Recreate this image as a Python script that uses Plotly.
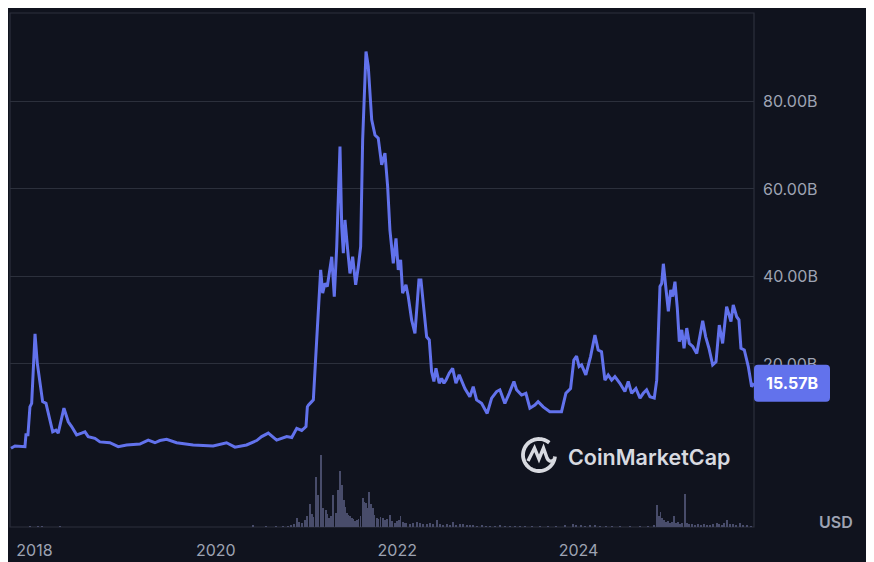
import numpy as np
import pandas as pd
import plotly.graph_objects as go

# ---------------- data (decimal years, values in billions USD) ----------------
price_years = [
    2017.741, 2017.785, 2017.895, 2017.906, 2017.928, 2017.950, 2017.969, 2018.006, 2018.031, 2018.061,
    2018.090, 2018.127, 2018.163, 2018.201, 2018.237, 2018.262, 2018.325, 2018.373, 2018.410, 2018.465,
    2018.520, 2018.557, 2018.593, 2018.667, 2018.722, 2018.832, 2018.924, 2019.017, 2019.163, 2019.255,
    2019.329, 2019.384, 2019.458, 2019.568, 2019.751, 2019.971, 2020.119, 2020.211, 2020.339, 2020.450,
    2020.505, 2020.578, 2020.670, 2020.781, 2020.836, 2020.891, 2020.946, 2020.993, 2021.008, 2021.019,
    2021.056, 2021.074, 2021.111, 2021.155, 2021.177, 2021.203, 2021.228, 2021.277, 2021.305, 2021.332,
    2021.368, 2021.387, 2021.405, 2021.423, 2021.453, 2021.478, 2021.508, 2021.541, 2021.570, 2021.596,
    2021.618, 2021.655, 2021.680, 2021.718, 2021.754, 2021.790, 2021.828, 2021.864, 2021.894, 2021.919,
    2021.956, 2021.986, 2022.011, 2022.037, 2022.059, 2022.096, 2022.121, 2022.159, 2022.195, 2022.239,
    2022.261, 2022.287, 2022.324, 2022.353, 2022.379, 2022.404, 2022.427, 2022.463, 2022.489, 2022.515,
    2022.537, 2022.573, 2022.611, 2022.647, 2022.683, 2022.746, 2022.801, 2022.838, 2022.875, 2022.930,
    2022.992, 2023.041, 2023.096, 2023.132, 2023.187, 2023.235, 2023.287, 2023.316, 2023.371, 2023.419,
    2023.463, 2023.518, 2023.554, 2023.610, 2023.683, 2023.757, 2023.812, 2023.860, 2023.912, 2023.948,
    2023.978, 2024.006, 2024.033, 2024.080, 2024.132, 2024.180, 2024.216, 2024.253, 2024.290, 2024.326,
    2024.364, 2024.400, 2024.455, 2024.510, 2024.547, 2024.584, 2024.631, 2024.676, 2024.712, 2024.749,
    2024.786, 2024.833, 2024.860, 2024.896, 2024.915, 2024.933, 2024.962, 2024.988, 2025.014, 2025.036,
    2025.061, 2025.087, 2025.109, 2025.136, 2025.161, 2025.191, 2025.219, 2025.257, 2025.301, 2025.337,
    2025.367, 2025.400, 2025.436, 2025.477, 2025.514, 2025.550, 2025.587, 2025.631, 2025.660, 2025.679,
    2025.704, 2025.742, 2025.767, 2025.789, 2025.826, 2025.870, 2025.907, 2025.933,
]
price_values = [
    0.73, 1.25, 1.1, 3.8, 3.8, 10.2, 11.0, 26.9, 20.2, 16.0,
    11.4, 11.0, 8.0, 4.5, 4.9, 4.2, 9.9, 6.8, 5.7, 3.8,
    4.2, 4.5, 3.4, 3.0, 2.2, 2.0, 1.1, 1.5, 1.7, 2.6,
    2.0, 2.5, 2.8, 2.0, 1.5, 1.26, 2.0, 1.0, 1.5, 2.5,
    3.4, 4.2, 2.6, 3.4, 3.2, 5.3, 4.8, 5.7, 10.2, 10.6,
    11.4, 11.8, 25.5, 41.5, 36.2, 38.4, 37.7, 44.5, 35.4, 46.8,
    69.7, 51.4, 45.3, 52.9, 46.0, 40.7, 44.5, 38.1, 42.2, 46.8,
    71.2, 91.4, 88.0, 75.8, 72.3, 71.6, 65.5, 68.2, 60.5, 50.6,
    43.0, 48.7, 41.5, 43.8, 36.2, 38.1, 35.4, 30.0, 27.0, 39.2,
    39.2, 33.1, 26.2, 25.5, 18.2, 16.0, 19.0, 15.6, 16.7, 15.6,
    16.3, 17.9, 19.0, 15.6, 17.5, 14.4, 12.5, 14.8, 11.8, 11.0,
    8.7, 12.2, 13.7, 14.1, 11.0, 13.3, 16.0, 14.1, 12.9, 13.3,
    9.9, 10.6, 11.4, 10.2, 9.1, 9.1, 9.1, 13.3, 14.4, 20.9,
    21.8, 19.4, 19.8, 17.5, 21.7, 26.6, 23.2, 22.8, 16.3, 17.5,
    16.3, 17.1, 15.6, 13.7, 16.0, 13.3, 14.4, 12.2, 13.3, 14.1,
    12.5, 12.2, 16.3, 37.7, 38.4, 42.9, 37.7, 32.0, 36.9, 35.4,
    38.8, 32.7, 25.1, 27.8, 23.6, 28.2, 24.7, 24.0, 22.4, 26.2,
    29.9, 26.2, 23.6, 19.8, 20.5, 28.9, 24.7, 33.1, 31.2, 29.7,
    33.5, 30.8, 30.1, 23.6, 23.2, 19.4, 14.8, 15.57,
]

volume_years = [
    2017.950, 2018.039, 2018.083, 2018.281, 2020.409, 2020.552, 2020.663, 2020.740, 2020.795, 2020.828,
    2020.861, 2020.891, 2020.916, 2020.949, 2020.982, 2021.004, 2021.037, 2021.059, 2021.076, 2021.104,
    2021.129, 2021.155, 2021.184, 2021.214, 2021.230, 2021.250, 2021.269, 2021.294, 2021.324, 2021.349,
    2021.368, 2021.393, 2021.412, 2021.429, 2021.445, 2021.460, 2021.478, 2021.497, 2021.517, 2021.534,
    2021.552, 2021.572, 2021.594, 2021.618, 2021.638, 2021.655, 2021.671, 2021.691, 2021.710, 2021.729,
    2021.749, 2021.773, 2021.793, 2021.815, 2021.846, 2021.864, 2021.886, 2021.919, 2021.941, 2021.975,
    2021.997, 2022.019, 2022.037, 2022.063, 2022.085, 2022.103, 2022.140, 2022.173, 2022.214, 2022.250,
    2022.283, 2022.324, 2022.360, 2022.393, 2022.441, 2022.471, 2022.504, 2022.545, 2022.581, 2022.617,
    2022.647, 2022.691, 2022.728, 2022.768, 2022.801, 2022.838, 2022.879, 2022.934, 2022.978, 2023.022,
    2023.077, 2023.132, 2023.187, 2023.242, 2023.297, 2023.353, 2023.408, 2023.485, 2023.573, 2023.661,
    2023.750, 2023.849, 2023.937, 2023.970, 2024.025, 2024.069, 2024.124, 2024.180, 2024.235, 2024.301,
    2024.367, 2024.455, 2024.565, 2024.676, 2024.764, 2024.830, 2024.866, 2024.885, 2024.902, 2024.918,
    2024.940, 2024.962, 2024.984, 2025.006, 2025.028, 2025.050, 2025.072, 2025.095, 2025.117, 2025.139,
    2025.172, 2025.191, 2025.216, 2025.249, 2025.282, 2025.315, 2025.348, 2025.381, 2025.414, 2025.447,
    2025.480, 2025.521, 2025.547, 2025.580, 2025.602, 2025.638, 2025.668, 2025.701, 2025.734, 2025.778,
    2025.811, 2025.855, 2025.899,
]
volume_values = [
    2, 2, 2, 1, 3, 2, 2, 2, 2, 3,
    4, 10, 6, 5, 8, 12, 24, 14, 11, 51,
    33, 73, 20, 18, 14, 10, 12, 33, 15, 38,
    57, 43, 28, 21, 15, 13, 12, 10, 9, 7,
    8, 9, 12, 30, 26, 25, 20, 36, 24, 20,
    13, 10, 9, 11, 10, 8, 9, 13, 7, 5,
    7, 8, 12, 6, 5, 5, 4, 5, 6, 5,
    4, 4, 5, 4, 8, 4, 3, 4, 3, 6,
    3, 4, 4, 3, 3, 3, 2, 3, 2, 2,
    2, 3, 2, 2, 2, 2, 2, 2, 2, 2,
    2, 3, 4, 3, 3, 2, 3, 3, 2, 2,
    2, 2, 2, 2, 2, 3, 23, 12, 16, 10,
    8, 6, 7, 5, 6, 12, 5, 6, 4, 5,
    34, 5, 4, 4, 3, 4, 3, 4, 3, 3,
    4, 5, 4, 3, 5, 8, 4, 4, 3, 5,
    3, 3, 2,
]

x_tick_years = [2018, 2020, 2022, 2024]
x_tick_labels = ["2018", "2020", "2022", "2024"]
y_tick_values = [0, 20, 40, 60, 80]
y_tick_labels = ["", "20.00B", "40.00B", "60.00B", "80.00B"]
x_start_year = 2017.730
x_end_year = 2025.933
last_value = 15.57
last_label = "15.57B"
currency_label = "USD"
brand_label = "CoinMarketCap"


def dec2date(d):
    y = int(np.floor(d))
    s = pd.Timestamp(y, 1, 1)
    e = pd.Timestamp(y + 1, 1, 1)
    return s + (e - s) * (d - y)


price_dates = [dec2date(v) for v in price_years]
volume_dates = [dec2date(v) for v in volume_years]

BG = "#10131e"
GRID = "#2c303c"
LINE = "#6272ec"
TXT = "#9ea3b3"
FONT = "Inter"

# page body has an 8px default offset; plot area is 744 x 514 px
PW, PH = 744.0, 514.0

fig = go.Figure()
fig.add_trace(go.Bar(
    x=volume_dates, y=volume_values, yaxis="y2",
    marker=dict(color="#484c6a", line=dict(width=0)),
    width=3 * 86400000, hoverinfo="skip", showlegend=False,
))
fig.add_trace(go.Scatter(
    x=price_dates, y=price_values, mode="lines",
    line=dict(color=LINE, width=3), showlegend=False, hoverinfo="skip",
))

vol_frac = (527 - 451.5) / PH

fig.update_layout(
    width=866, height=554,
    margin=dict(l=2, r=120, t=5, b=35, autoexpand=False),
    paper_bgcolor=BG, plot_bgcolor="rgba(0,0,0,0)",
    font=dict(family=FONT, color=TXT, size=16),
    bargap=0,
    xaxis=dict(
        domain=[0, 1], anchor="y2",
        range=[dec2date(x_start_year), dec2date(x_end_year)],
        showgrid=False, zeroline=False, showline=False,
        tickvals=[dec2date(y) for y in x_tick_years], ticktext=x_tick_labels,
        ticks="", ticklabelstandoff=12,
        tickfont=dict(family=FONT, size=16, color=TXT),
    ),
    yaxis=dict(
        domain=[vol_frac, 1], anchor="x", side="right",
        range=[0, 100.2],
        tickvals=y_tick_values, ticktext=y_tick_labels,
        showgrid=True, gridcolor=GRID, gridwidth=1,
        zeroline=False, showline=False, ticks="", ticklabelstandoff=8,
        tickfont=dict(family=FONT, size=16, color=TXT),
    ),
    yaxis2=dict(
        domain=[0, vol_frac], anchor="x", range=[0, 76],
        visible=False, showgrid=False, zeroline=False,
    ),
)

shapes = [
    dict(type="rect", xref="paper", yref="paper", x0=0, x1=1, y0=0, y1=1,
         line=dict(color=GRID, width=1.2), layer="below"),
]

# last value badge
r = 4
w, h = 76, 18.5
badge_path = (f"M {r},{-h} L {w - r},{-h} Q {w},{-h} {w},{-h + r} L {w},{h - r} "
              f"Q {w},{h} {w - r},{h} L {r},{h} Q 0,{h} 0,{h - r} L 0,{-h + r} Q 0,{-h} {r},{-h} Z")
shapes.append(dict(type="path", xref="paper", yref="y", xsizemode="pixel", ysizemode="pixel",
                   xanchor=1.0, yanchor=last_value, path=badge_path,
                   fillcolor=LINE, line=dict(width=0), layer="above"))

# CoinMarketCap logo
logo_x = (539 - 10) / PW
logo_y = (527 - 455) / PH
ang = np.radians(np.linspace(-5, -310, 60))
R = 16
ring = "M " + " L ".join(f"{R*np.cos(a):.2f},{R*np.sin(a):.2f}" for a in ang)
shapes.append(dict(type="path", xref="paper", yref="paper", xsizemode="pixel", ysizemode="pixel",
                   xanchor=logo_x, yanchor=logo_y, path=ring,
                   line=dict(color="#d8dae0", width=3.8), layer="above"))
wave = "M -11,-6 L -4.5,7 L 0,-4 L 4.5,7 L 8,-3 Q 10,-8 15,-5"
shapes.append(dict(type="path", xref="paper", yref="paper", xsizemode="pixel", ysizemode="pixel",
                   xanchor=logo_x, yanchor=logo_y, path=wave,
                   line=dict(color="#d8dae0", width=3.4), layer="above"))

fig.update_layout(shapes=shapes)

fig.add_annotation(x=(792 - 10) / PW, xref="paper", y=last_value, yref="y",
                   text=last_label, showarrow=False, xanchor="center", yanchor="middle",
                   font=dict(family=FONT, size=16, color="#ffffff", weight=700))
fig.add_annotation(x=(836 - 10) / PW, xref="paper", y=(527 - 521.5) / PH, yref="paper",
                   text=currency_label, showarrow=False, xanchor="center", yanchor="middle",
                   font=dict(family=FONT, size=16, color=TXT, weight=600))
fig.add_annotation(x=(566 - 10) / PW, xref="paper", y=(527 - 457) / PH, yref="paper",
                   text=brand_label, showarrow=False, xanchor="left", yanchor="middle",
                   font=dict(family=FONT, size=21.5, color="#d8dae0", weight=600))

fig.write_html("out.html")
